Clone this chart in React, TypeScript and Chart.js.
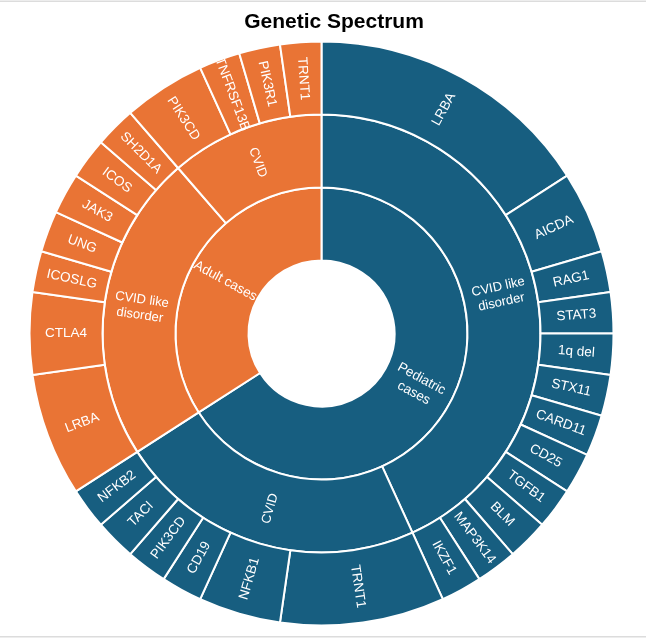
import React, { useEffect, useRef } from 'react';
import { Chart, registerables } from 'chart.js';

Chart.register(...registerables);

const chartTitle = 'Genetic Spectrum';

// Ring 1 (inner): cohorts
const cohortLabels = ['Pediatric\ncases', 'Adult cases'];
const cohortValues = [29, 15];
const cohortColors = ['#175E80', '#E97435'];

// Ring 2 (middle): diagnosis groups
const groupLabels = ['CVID like\ndisorder', 'CVID', 'CVID like\ndisorder', 'CVID'];
const groupValues = [19, 10, 10, 5];
const groupParent = [0, 0, 1, 1];

// Ring 3 (outer): genes
const leafLabels = [
  'LRBA', 'AICDA', 'RAG1', 'STAT3', '1q del', 'STX11', 'CARD11', 'CD25', 'TGFB1', 'BLM', 'MAP3K14', 'IKZF1',
  'TRNT1', 'NFKB1', 'CD19', 'PIK3CD', 'TACI', 'NFKB2',
  'LRBA', 'CTLA4', 'ICOSLG', 'UNG', 'JAK3', 'ICOS', 'SH2D1A',
  'PIK3CD', 'TNFRSF13B', 'PIK3R1', 'TRNT1',
];
const leafValues = [
  7, 2, 1, 1, 1, 1, 1, 1, 1, 1, 1, 1,
  4, 2, 1, 1, 1, 1,
  3, 2, 1, 1, 1, 1, 1,
  2, 1, 1, 1,
];
const leafParent = [
  0, 0, 0, 0, 0, 0, 0, 0, 0, 0, 0, 0,
  1, 1, 1, 1, 1, 1,
  2, 2, 2, 2, 2, 2, 2,
  3, 3, 3, 3,
];

const FONT = '"Liberation Sans", Arial, Helvetica, sans-serif';

const sunburstLabels = {
  id: 'sunburstLabels',
  beforeDraw(chart: any) {
    const ctx = chart.ctx;
    ctx.save();
    ctx.fillStyle = '#ffffff';
    ctx.fillRect(0, 0, chart.width, chart.height);
    ctx.fillStyle = '#dcdcdc';
    ctx.fillRect(0, 0.5, chart.width, 1.5);
    ctx.fillRect(0, chart.height - 2, chart.width, 1.5);
    ctx.restore();
  },
  afterDatasetsDraw(chart: any) {
    const ctx = chart.ctx;
    const sets = [leafLabels, groupLabels, cohortLabels];
    const sizes = [13.5, 13, 13.5];
    ctx.save();
    ctx.fillStyle = '#ffffff';
    ctx.textAlign = 'center';
    ctx.textBaseline = 'middle';
    sets.forEach((labels, di) => {
      const meta = chart.getDatasetMeta(di);
      meta.data.forEach((arc: any, i: number) => {
        const p = arc.getProps(['x', 'y', 'startAngle', 'endAngle', 'innerRadius', 'outerRadius'], true);
        const a = (p.startAngle + p.endAngle) / 2;
        const r = (p.innerRadius + p.outerRadius) / 2;
        const x = p.x + r * Math.cos(a);
        const y = p.y + r * Math.sin(a);
        let rot = a;
        if (Math.cos(a) < -1e-6) rot = a + Math.PI;
        ctx.save();
        ctx.translate(x, y);
        ctx.rotate(rot);
        ctx.font = `${sizes[di]}px ${FONT}`;
        const lines = String(labels[i]).split('\n');
        const lh = sizes[di] * 1.2;
        lines.forEach((ln, k) => ctx.fillText(ln, 0, (k - (lines.length - 1) / 2) * lh));
        ctx.restore();
      });
    });
    const inner: any = chart.getDatasetMeta(2).data[0];
    if (inner) {
      ctx.beginPath();
      ctx.arc(inner.x, inner.y, inner.innerRadius - 1, 0, Math.PI * 2);
      ctx.fillStyle = '#ffffff';
      ctx.fill();
    }
    ctx.fillStyle = '#000000';
    ctx.textAlign = 'center';
    ctx.textBaseline = 'alphabetic';
    ctx.font = `bold 21px ${FONT}`;
    ctx.fillText(chartTitle, 334, 28);
    ctx.restore();
  },
};

export default function App() {
  const ref = useRef<HTMLCanvasElement | null>(null);
  useEffect(() => {
    if (!ref.current) return;
    const chart = new Chart(ref.current, {
      type: 'doughnut',
      data: {
        labels: leafLabels,
        datasets: [
          {
            data: leafValues,
            backgroundColor: leafParent.map((g) => cohortColors[groupParent[g]]),
            borderColor: '#ffffff',
            borderWidth: 2,
          },
          {
            data: groupValues,
            backgroundColor: groupParent.map((c) => cohortColors[c]),
            borderColor: '#ffffff',
            borderWidth: 2,
          },
          {
            data: cohortValues,
            backgroundColor: cohortColors,
            borderColor: '#ffffff',
            borderWidth: 2,
          },
        ],
      },
      options: {
        responsive: false,
        animation: false,
        events: [],
        radius: 292,
        cutout: '25%',
        layout: { padding: { left: 0, right: 3, top: 29, bottom: 0 } },
        plugins: {
          legend: { display: false },
          tooltip: { enabled: false },
          title: { display: false },
        },
      } as any,
      plugins: [sunburstLabels],
    });
    return () => chart.destroy();
  }, []);
  return (
    <div style={{ position: 'fixed', left: 0, top: 0, width: 646, height: 638, background: '#fff' }}>
      <canvas ref={ref} width={646} height={638} style={{ display: 'block', width: 646, height: 638 }} />
    </div>
  );
}
